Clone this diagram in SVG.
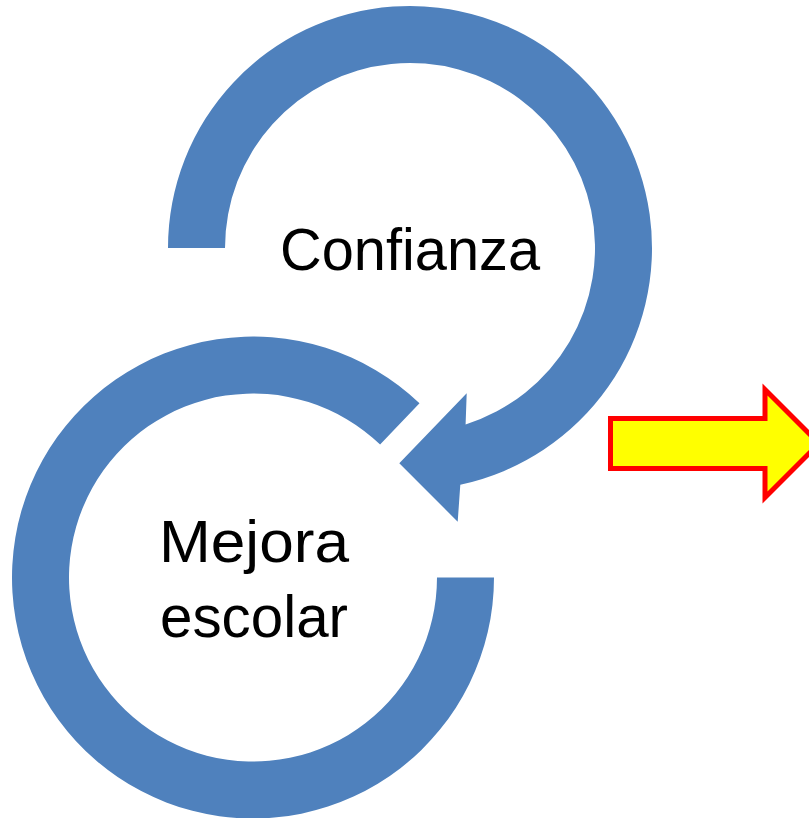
<svg xmlns="http://www.w3.org/2000/svg" width="809" height="818" viewBox="0 0 809 818">
<style>
.arc{fill:#4F81BD;stroke:none}
.lbl{font-family:"Liberation Sans",Arial,sans-serif;font-size:59px;fill:#000;text-anchor:middle}
.big{fill:#FFFF00;stroke:#FF0000;stroke-width:5;stroke-linejoin:miter}
</style>
<rect width="809" height="818" fill="#fff"/>
<g id="mejora">
<path class="arc" d="M494 577.5 A241 241 0 1 1 419.5 403.3 L380.1 444.5 A184 184 0 1 0 437 577.5 Z"/>
<text class="lbl" x="254" y="562" textLength="190" lengthAdjust="spacingAndGlyphs">Mejora</text>
<text class="lbl" x="254" y="637" textLength="188" lengthAdjust="spacingAndGlyphs">escolar</text>
</g>
<g id="confianza">
<path class="arc" d="M168 248 A242 242 0 1 1 460.3 484.7 L457.7 521.7 L399.3 463.3 L466.7 393.3 L465.6 424.4 A185 185 0 1 0 225 248 Z"/>
<text class="lbl" x="410" y="270" textLength="260" lengthAdjust="spacingAndGlyphs">Confianza</text>
</g>
<g id="connectors">
<path class="big" d="M610.5 418.5 H765 V389.5 L819 443.5 L765 497.5 V468.5 H610.5 Z"/>
</g>
</svg>
